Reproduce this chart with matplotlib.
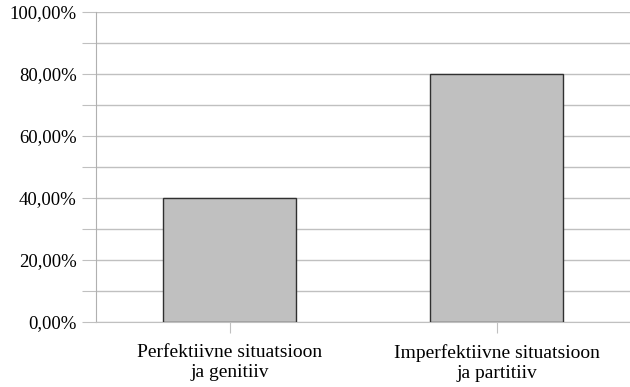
import matplotlib
matplotlib.use("Agg")
import matplotlib.pyplot as plt
import numpy as np

categories = ["Perfektiivne situatsioon\nja genitiiv", "Imperfektiivne situatsioon\nja partitiiv"]
values = [40.0, 80.0]
yticks = list(range(0, 101, 10))
ylabels = [f"{v},00%" if v % 20 == 0 else "" for v in yticks]

plt.rcParams['font.family'] = ['Liberation Serif', 'DejaVu Serif']

fig = plt.figure(figsize=(6.3, 3.87), dpi=100)
ax = fig.add_axes([96/630, 1-322/387, 534/630, 310/387])

x = np.arange(len(categories))
ax.bar(x, values, width=0.5, color="#c0c0c0", edgecolor="#303030", linewidth=1.0, zorder=3)

ax.set_xlim(-0.5, 1.5)
ax.set_ylim(0, 100)
ax.set_yticks(yticks)
ax.set_yticklabels(ylabels, fontsize=13.5)
ax.set_xticks(x)
ax.set_xticklabels(categories, fontsize=14, linespacing=1.25)

ax.grid(axis="y", color="#c0c0c0", linewidth=1.0, zorder=0)
for s in ["top", "right"]:
    ax.spines[s].set_visible(False)
ax.spines["left"].set_color("#b0b0b0")
ax.spines["bottom"].set_color("#c0c0c0")
ax.tick_params(axis="y", length=10, color="#c0c0c0", pad=4)
ax.tick_params(axis="x", length=8, color="#c0c0c0", pad=8)

fig.savefig("out.png", dpi=100)
